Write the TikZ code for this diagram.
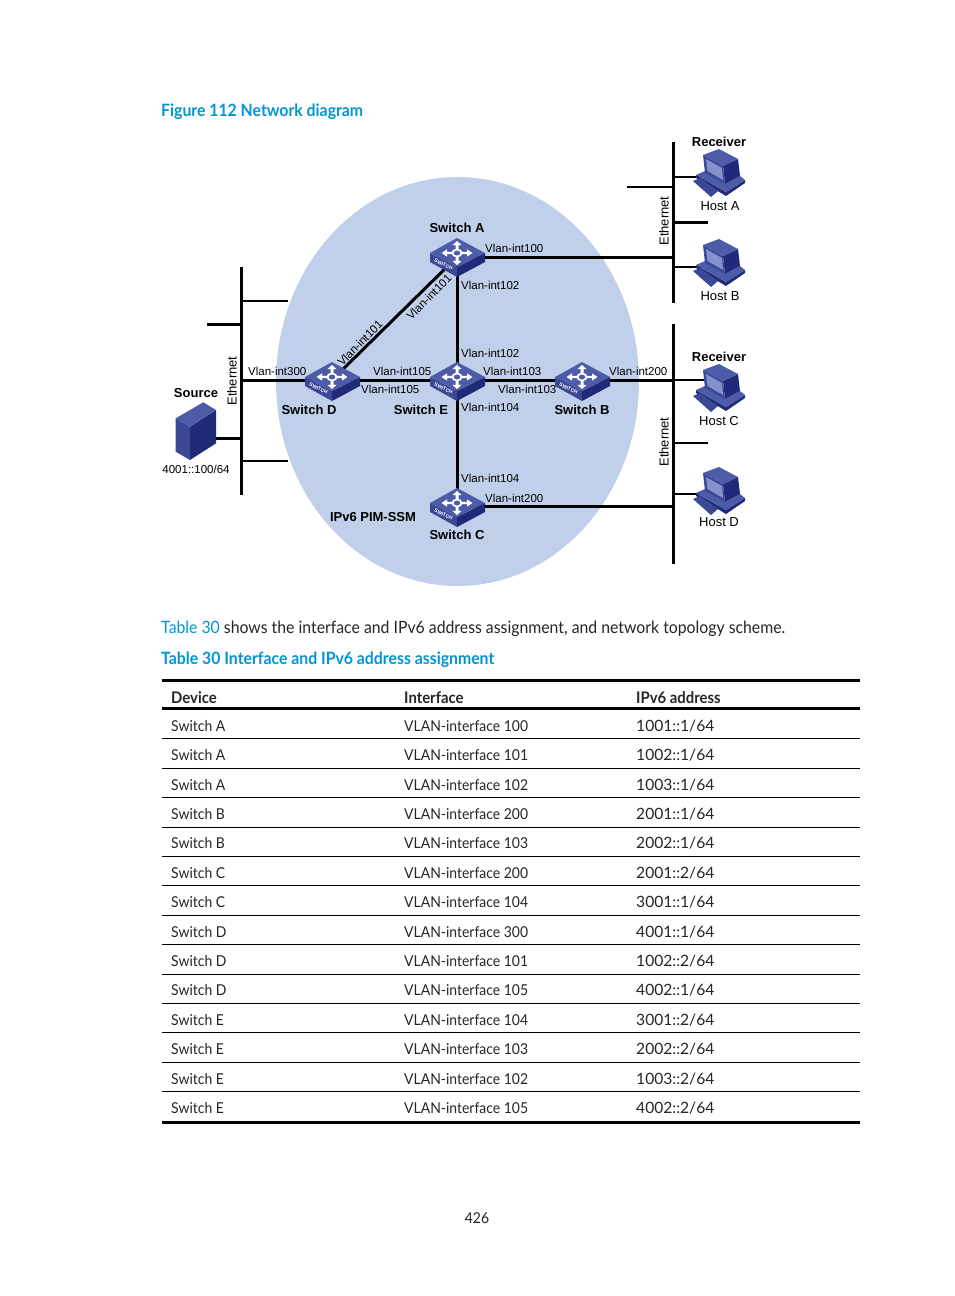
\documentclass[tikz,border=0pt]{standalone}
\usepackage{fontspec}
\setmainfont{Lato}[FakeStretch=0.93]
\newfontfamily\wideaddr{Lato}
\newfontfamily\arialf{Liberation Sans}
\definecolor{hpblue}{HTML}{0096D6}
\definecolor{oval}{HTML}{C1D0EA}
\definecolor{ftop}{HTML}{4D5CA8}
\definecolor{fleft}{HTML}{3A4896}
\definecolor{fright}{HTML}{1F2A78}
\definecolor{fscreen}{HTML}{8492CC}
\definecolor{txt}{HTML}{262626}
\tikzset{
  bus/.style={line width=3pt,black},
  link/.style={line width=3pt,black},
  thin link/.style={line width=2.3pt,black},
  lbl/.style={font=\arialf\fontsize{11.5}{12}\selectfont,inner sep=0pt,anchor=west,text=black},
  lblc/.style={font=\arialf\fontsize{11.5}{12}\selectfont,inner sep=0pt,text=black},
  host lbl/.style={font=\arialf\fontsize{13}{14}\selectfont,inner sep=0pt,text=black},
  bold lbl/.style={font=\arialf\bfseries\fontsize{13}{14}\selectfont,inner sep=0pt,text=black},
  eth/.style={font=\arialf\fontsize{13}{14}\selectfont,inner sep=0pt,rotate=90,text=black},
  place/.style={inner sep=0pt,minimum width=54pt,minimum height=34pt},
  hplace/.style={inner sep=0pt,minimum width=52pt,minimum height=44pt},
  cell/.style={font=\fontsize{15}{16}\selectfont,inner sep=0pt,anchor=base west,text=txt},
  addr/.style={font=\wideaddr\fontsize{15.6}{16}\selectfont,inner sep=0pt,anchor=base west,text=txt},
  head/.style={font=\bfseries\fontsize{16}{17}\selectfont,inner sep=0pt,anchor=base west,text=txt},
  blue head/.style={font=\bfseries\fontsize{17}{18}\selectfont,inner sep=0pt,anchor=base west,text=hpblue},
}
\newcommand{\swicon}[2]{%
\begin{scope}[shift={(#1,#2)}]
  \fill[fleft] (-27,0)--(0,14)--(0,24)--(-27,9)--cycle;
  \fill[fright] (28,0)--(0,14)--(0,24)--(28,9)--cycle;
  \fill[ftop] (-27,0)--(0,-15)--(28,0)--(0,14)--cycle;
  \node[font=\arialf\bfseries\fontsize{5}{5}\selectfont,text=white,rotate=-26,inner sep=0pt] at (-13.5,11.5) {SWITCH};
  \begin{scope}[yscale=0.78]
    \foreach \a in {0,90,180,270}{
      \fill[white,rotate=\a] (3,-1.5)--(10,-1.5)--(10,-4.6)--(15.5,0)--(10,4.6)--(10,1.5)--(3,1.5)--cycle;
    }
    \fill[white] (0,0) circle (5.6);
    \fill[ftop] (0,0) circle (3.2);
  \end{scope}
\end{scope}}
\newcommand{\hosticon}[2]{%
\begin{scope}[shift={(#1,#2)}]
  \fill[fright] (6,30)--(36,47)--(55,35)--(55,38)--(36,51)--(6,33)--cycle;
  \fill[ftop] (6,30)--(15,26)--(35,39)--(50,31)--(55,35)--(36,47)--cycle;
  \fill[fleft] (3,36)--(10,33)--(28,46)--(21,52)--cycle;
  \fill[fright] (33,21)--(48,14)--(50,31)--(35,39)--cycle;
  \fill[ftop] (13,10)--(29,4)--(48,14)--(33,21)--cycle;
  \fill[fleft] (13,10)--(33,21)--(35,39)--(15,28)--cycle;
  \fill[fscreen] (16,14)--(32,23)--(33,35)--(17.5,26)--cycle;
\end{scope}}
\begin{document}
\begin{tikzpicture}[x=1pt,y=-1pt]
\useasboundingbox[fill=white] (0,0) rectangle (954,1296);
% title
\node[blue head] (figtitle) at (161,116) {Figure 112 Network diagram};
% oval
\fill[oval] (457.5,381.5) ellipse [x radius=181.5,y radius=204.5];
% named places
\node[place] (swA) at (457,257) {};
\node[place] (swD) at (332,380) {};
\node[place] (swE) at (457,380) {};
\node[place] (swB) at (582,380) {};
\node[place] (swC) at (457,506) {};
\node[hplace] (hostA) at (720,177) {};
\node[hplace] (hostB) at (720,267) {};
\node[hplace] (hostC) at (720,380) {};
\node[hplace] (hostD) at (720,494) {};
\node[inner sep=0pt,minimum width=40pt,minimum height=56pt] (src) at (196,438) {};
% bus end points
\coordinate (wT) at (241,267); \coordinate (wB) at (241,495);
\coordinate (aT) at (673,142); \coordinate (aB) at (673,303);
\coordinate (cT) at (673,324); \coordinate (cB) at (673,564);
\coordinate (wJ1) at (241,301); \coordinate (wS1) at (288,301);
\coordinate (wJ2) at (241,324); \coordinate (wS2) at (207,324);
\coordinate (wJ3) at (241,380);
\coordinate (wJ4) at (241,438);
\coordinate (wJ5) at (241,461); \coordinate (wS5) at (288,461);
\coordinate (aJ1) at (673,187); \coordinate (aS1) at (627,187);
\coordinate (aJ2) at (673,222); \coordinate (aS2) at (708,222);
\coordinate (aJ3) at (673,257);
\coordinate (aJ4) at (673,177);
\coordinate (aJ5) at (673,267);
\coordinate (cJ1) at (673,380);
\coordinate (cJ2) at (673,443); \coordinate (cS2) at (708,443);
\coordinate (cJ3) at (673,494);
\coordinate (cJ4) at (673,506);
% connectors
\draw[bus] (wT)--(wB);
\draw[bus] (aT)--(aB);
\draw[bus] (cT)--(cB);
\draw[thin link] (wJ1)--(wS1);
\draw[link] (wJ2)--(wS2);
\draw[link] (wJ3)--(swD.center);
\draw[link] (wJ4)--(src.center);
\draw[thin link] (wJ5)--(wS5);
\draw[thin link] (aJ1)--(aS1);
\draw[link] (aJ2)--(aS2);
\draw[link] (aJ3)--(swA.center);
\draw[thin link] (aJ4)--(hostA.center);
\draw[thin link] (aJ5)--(hostB.center);
\draw[link] (cJ1)--(swB.center);
\draw[thin link] (cJ1)--(hostC.center);
\draw[thin link] (cJ2)--(cS2);
\draw[thin link] (cJ3)--(hostD.center);
\draw[link] (cJ4)--(swC.center);
\draw[link] (swA.center)--(swC.center);
\draw[link] (swA.center)--(swD.center);
\draw[link] (swD.center)--(swB.center);
% icons
\swicon{457}{253}\swicon{332}{377}\swicon{457}{377}\swicon{582}{377}\swicon{457}{503}
\hosticon{690}{145}\hosticon{690}{235}\hosticon{690}{360}\hosticon{690}{463}
% source
\fill[fleft] (175.7,418.3)--(190,426.7)--(190,460)--(175.7,451.7)--cycle;
\fill[fright] (190,426.7)--(216,410)--(216,443.3)--(190,460)--cycle;
\fill[ftop] (175.7,418.3)--(203.3,402.3)--(216,410)--(190,426.7)--cycle;
% diagram labels
\node[bold lbl] (lA) at (457,228) {Switch A};
\node[bold lbl] (lD) at (309,410) {Switch D};
\node[bold lbl] (lE) at (421,410) {Switch E};
\node[bold lbl] (lB) at (582,410) {Switch B};
\node[bold lbl] (lC) at (457,535) {Switch C};
\node[bold lbl] (lPim) at (373,517) {IPv6 PIM-SSM};
\node[bold lbl] (lSrc) at (196,393) {Source};
\node[bold lbl] (lR1) at (719,142) {Receiver};
\node[bold lbl] (lR2) at (719,357) {Receiver};
\node[host lbl] (lhA) at (720,206) {Host A};
\node[host lbl] (lhB) at (720,296) {Host B};
\node[host lbl] (lhC) at (719,421) {Host C};
\node[host lbl] (lhD) at (719,522) {Host D};
\node[eth] (e1) at (664,221) {Ethernet};
\node[eth] (e2) at (664,442) {Ethernet};
\node[eth] (e3) at (232,381) {Ethernet};
\node[lblc] (ip) at (196,469) {4001::100/64};
\node[lbl] (v1) at (485,248) {Vlan-int100};
\node[lbl] (v2) at (461,285) {Vlan-int102};
\node[lblc,rotate=45] (v3) at (429,297) {Vlan-int101};
\node[lblc,rotate=45] (v4) at (360,343) {Vlan-int101};
\node[lbl] (v5) at (461,353) {Vlan-int102};
\node[lbl] (v6) at (248,371) {Vlan-int300};
\node[lbl] (v7) at (373,371) {Vlan-int105};
\node[lbl] (v8) at (361,389) {Vlan-int105};
\node[lbl] (v9) at (483,371) {Vlan-int103};
\node[lbl] (v10) at (498,389) {Vlan-int103};
\node[lbl] (v11) at (609,371) {Vlan-int200};
\node[lbl] (v12) at (461,407) {Vlan-int104};
\node[lbl] (v13) at (461,478) {Vlan-int104};
\node[lbl] (v14) at (485,498) {Vlan-int200};
% text
\node[cell,font=\fontsize{17}{18}\selectfont] (para) at (161,633) {\textcolor{hpblue}{Table 30} shows the interface and IPv6 address assignment, and network topology scheme.};
\node[blue head] (tabtitle) at (161,664) {Table 30 Interface and IPv6 address assignment};
% table
\coordinate (tl0) at (162,680); \coordinate (tr0) at (860,680);
\coordinate (tl1) at (162,708.5); \coordinate (tr1) at (860,708.5);
\coordinate (tl2) at (162,1122.5); \coordinate (tr2) at (860,1122.5);
\draw[line width=3pt] (tl0)--(tr0);
\draw[line width=2.5pt] (tl1)--(tr1);
\draw[line width=2.5pt] (tl2)--(tr2);
\node[head] (hd1) at (171,703) {Device};
\node[head] (hd2) at (404,703) {Interface};
\node[head] (hd3) at (636,703) {IPv6 address};
\foreach \n/\y/\d/\f/\a in {
 1/726/A/100/1001::1,
 2/755/A/101/1002::1,
 3/785/A/102/1003::1,
 4/814/B/200/2001::1,
 5/843/B/103/2002::1,
 6/873/C/200/2001::2,
 7/902/C/104/3001::1,
 8/932/D/300/4001::1,
 9/961/D/101/1002::2,
 10/990/D/105/4002::1,
 11/1020/E/104/3001::2,
 12/1049/E/103/2002::2,
 13/1079/E/102/1003::2,
 14/1108/E/105/4002::2}{
  \node[cell] (d\n) at (171,\y+5) {Switch \d};
  \node[cell] (f\n) at (404,\y+5) {VLAN-interface \f};
  \node[addr] (a\n) at (636,\y+5) {\a/64};
}
\foreach \n/\y in {1/738.5,2/768,3/797.5,4/827,5/856.5,6/885.5,7/915,8/944.5,9/974,10/1003.5,11/1032.5,12/1062,13/1091.5}{
  \coordinate (ra\n) at (162,\y); \coordinate (rb\n) at (860,\y);
  \draw[line width=0.8pt,black] (ra\n)--(rb\n);
}
\node[cell,anchor=center] (page) at (477,1218) {426};
\end{tikzpicture}
\end{document}
